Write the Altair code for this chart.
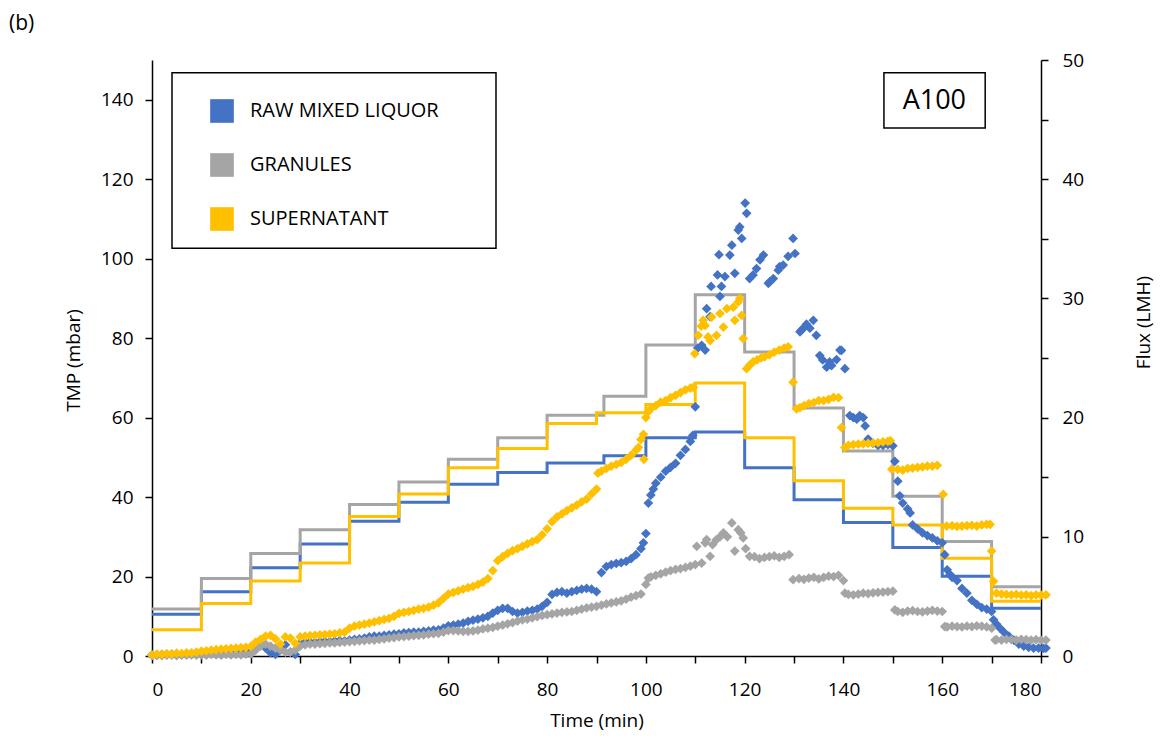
import altair as alt
import pandas as pd

# ---------------- data ----------------
series = ["RAW MIXED LIQUOR", "GRANULES", "SUPERNATANT"]
colors = ["#4472C4", "#A5A5A5", "#FFC000"]

# TMP (mbar) scatter, RAW MIXED LIQUOR
blue_t = list(range(0, 91)) + [
    91, 92, 93, 94, 95, 96, 97, 98, 99, 99.5, 100, 100.5, 101, 101.5, 102, 103, 104, 105, 106, 107, 108, 109, 109.5, 110,
    110.5, 111.3, 112, 112.3, 113, 113.2, 114.5, 114.8, 115, 115.3, 116, 117, 117.4, 118, 118.7, 119, 119.4, 120.1, 120.4,
    121, 121.7, 122.4, 123.1, 123.8, 124.8, 125.1, 125.8, 126.8, 127.1, 127.8, 128.8, 129.8, 130.2,
    131.2, 131.5, 131.8, 132.5, 133.2, 133.9, 134.5, 135.2, 135.8, 136.6, 137.2, 137.6, 138.6, 139.3, 139.6, 140.3,
    141.3, 142, 142.7, 143.3, 144, 144.4, 145, 146, 147, 148, 149, 150, 150.4, 151, 151.4, 152, 153, 153.5, 154, 155,
    156, 157, 158, 159, 160, 160.5, 161, 161.6, 162, 163, 164, 165, 166, 167, 168, 169, 170, 170.4, 171, 171.7, 172.5,
    173.5, 174.5, 175.5, 176.5, 177.5, 178.5, 179.5, 180.5, 181]
blue_tmp = [
    0.3, 0.2, 0.4, 0.3, 0.5, 0.4, 0.3, 0.5, 0.4, 0.6, 0.5, 0.4, 0.6, 0.5, 0.7, 0.6, 0.5, 0.7, 0.8, 1.0,
    1.6, 2.4, 3.0, 2.0, 0.8, 0.4, 1.5, 2.8, 1.0, 0.4,
    3.2, 3.4, 3.5, 3.4, 3.6, 3.7, 3.6, 3.8, 3.9, 3.8, 4.0, 4.2, 4.3, 4.5, 4.8, 5.0, 5.0, 5.2, 5.3, 5.5,
    5.6, 5.8, 5.9, 6.0, 6.0, 6.2, 6.3, 6.5, 6.6, 7.0,
    7.6, 7.8, 8.0, 8.3, 8.7, 9.0, 9.3, 9.6, 10.0, 10.8, 11.5, 12.0, 12.0, 11.2, 10.8, 11.0, 11.3, 11.5, 11.8, 12.5,
    13.5, 15.5, 16.0, 16.2, 15.8, 16.2, 16.5, 16.8, 17.0, 16.8, 16.2,
    21.0, 22.5, 23.0, 23.3, 23.5, 23.8, 24.5, 25.5, 27.0, 28.5, 30.8, 38.5, 40.5, 42.0, 43.5, 45.0, 46.5, 47.5, 48.5,
    50.5, 52.0, 54.0, 55.5, 62.7,
    77.5, 78.2, 77.0, 87.4, 85.4, 93.0, 95.9, 101.0, 90.5, 93.0, 95.5, 100.9, 103.4, 96.3, 107.2, 108.0, 105.1, 114.0,
    111.4, 95.0, 95.9, 97.5, 99.7, 100.9, 93.8, 94.2, 95.0, 97.1, 98.0, 98.4, 100.6, 105.1, 101.3,
    81.6, 82.0, 82.4, 83.5, 82.5, 84.5, 80.7, 75.6, 74.5, 72.7, 74.0, 73.1, 74.6, 77.0, 76.9, 72.3,
    60.5, 60.0, 59.6, 60.5, 60.0, 57.9, 54.6, 53.5, 53.0, 53.0, 53.2, 52.9, 49.0, 44.0, 40.3, 38.5, 37.0, 36.0, 33.0,
    32.0, 31.0, 30.3, 29.7, 29.0, 28.5, 25.5, 21.7, 20.5, 19.8, 19.0, 17.0, 15.8, 14.0, 13.0, 12.2, 11.8, 11.2, 9.1,
    8.0, 7.0, 6.0, 5.0, 4.0, 3.0, 2.5, 2.2, 2.0, 2.0, 1.9, 2.0]

# TMP (mbar) scatter, GRANULES
gray_t = list(range(0, 100)) + [
    100, 100.5, 101, 102, 103, 104, 105, 106, 107, 108, 109, 110, 110.3, 111.3, 112, 112.3, 113, 113.5, 114.3, 115,
    115.7, 116.5, 117.4, 118, 118.7, 119.2, 119.7, 120.2, 121, 122, 123, 124, 125, 126, 127, 128, 129, 129.8, 131,
    132, 133, 134, 135, 136, 137, 138, 139, 140, 140.3, 141, 142, 143, 144, 145, 146, 147, 148, 149, 150, 150.4, 151,
    152, 153, 154, 155, 156, 157, 158, 159, 160, 160.5, 161, 162, 163, 164, 165, 166, 167, 168, 169, 170, 170.7, 171,
    172, 173, 174, 175, 176, 177, 178, 179, 180, 181]
gray_tmp = [
    0.1, 0.2, 0.1, 0.3, 0.2, 0.1, 0.3, 0.2, 0.3, 0.2, 0.3, 0.2, 0.4, 0.3, 0.2, 0.4, 0.3, 0.4, 0.3, 0.5,
    0.5, 1.5, 2.5, 3.0, 2.5, 2.0, 1.5, 1.0, 1.0, 1.5,
    2.5, 2.8, 3.0, 3.0, 3.1, 3.2, 3.3, 3.3, 3.4, 3.5, 3.6, 3.7, 3.8, 3.9, 4.0, 4.0, 4.2, 4.3, 4.5, 4.6,
    4.8, 4.9, 5.0, 5.1, 5.2, 5.3, 5.5, 5.6, 5.7, 6.0,
    6.4, 6.4, 6.3, 6.2, 6.2, 6.3, 6.5, 6.8, 7.0, 7.2, 7.5, 7.8, 8.1, 8.4, 8.8, 9.1, 9.3, 9.6, 9.9, 10.2,
    10.4, 10.6, 10.8, 11.0, 11.1, 11.2, 11.5, 11.8, 12.1, 12.3, 12.5, 12.8, 13.1, 13.4, 13.6, 13.9, 14.3, 14.8, 15.2, 15.6,
    18.0, 19.6, 19.9, 20.3, 20.7, 21.1, 21.5, 21.8, 22.0, 22.3, 22.6, 23.0, 27.6, 23.4, 28.5, 29.3, 25.1, 28.0, 29.3,
    30.0, 31.0, 30.0, 33.5, 26.4, 31.8, 31.0, 29.7, 27.0, 25.1, 25.0, 24.5, 24.8, 25.0, 25.2, 24.8, 25.1, 25.5, 19.2,
    19.5, 19.3, 19.6, 19.8, 19.4, 19.8, 20.1, 20.0, 20.3, 19.0, 15.8, 15.5, 15.4, 15.6, 15.8, 15.7, 15.9, 16.0, 16.1,
    16.2, 16.3, 11.6, 11.2, 11.0, 11.3, 11.4, 11.2, 11.1, 11.3, 11.5, 11.3, 11.2, 7.4, 7.3, 7.5, 7.4, 7.3, 7.5, 7.4,
    7.6, 7.5, 7.3, 7.0, 4.0, 4.1, 4.0, 4.2, 4.1, 4.0, 4.2, 4.1, 4.0, 4.1, 4.0, 4.0]

# TMP (mbar) scatter, SUPERNATANT
yellow_t = list(range(0, 91)) + [
    90.3, 91, 92, 93, 94, 95, 96, 97, 98, 98.5, 99, 99.5, 99.6, 100, 100.5, 101, 102, 103, 104, 105, 106, 107, 108, 109,
    109.6, 109.9, 110.6, 111.2, 111.6, 112, 112.6, 113, 113.3, 114.3, 115, 115.7, 116.4, 117.7, 118, 118.7, 119, 119.4,
    119.7, 120.4, 121, 121.7, 122.5, 123.3, 124, 125, 126, 127, 128, 128.8, 129.8, 130.5, 131.2, 132, 133, 134, 135,
    136, 137, 138, 139, 139.6, 140.3, 141, 142, 143, 144, 145, 146, 147, 148, 149, 149.5, 149.8, 151, 152, 153, 154,
    155, 156, 157, 158, 159, 160.2, 160.9, 162, 163, 164, 165, 166, 167, 168, 169, 169.7, 170, 170.4, 171, 172, 173,
    174, 175, 176, 177, 178, 179, 180, 181]
yellow_tmp = [
    0.3, 0.5, 0.4, 0.6, 0.5, 0.7, 0.6, 0.8, 0.8, 1.0, 1.2, 1.3, 1.5, 1.6, 1.7, 1.8, 1.9, 2.0, 2.1, 2.2,
    2.4, 3.5, 4.2, 5.0, 5.2, 4.3, 3.0, 4.8, 4.5, 3.2,
    4.8, 5.0, 5.1, 5.2, 5.3, 5.4, 5.5, 5.6, 5.8, 6.0, 7.0, 7.5, 7.8, 8.0, 8.3, 8.6, 8.9, 9.2, 9.5, 10.0,
    10.7, 11.0, 11.2, 11.5, 11.8, 12.0, 12.3, 12.8, 13.4, 14.5,
    15.6, 16.0, 16.4, 16.8, 17.2, 17.5, 18.0, 18.6, 19.5, 21.5, 24.0, 25.0, 25.8, 26.5, 27.0, 27.6, 28.2, 28.8, 29.3, 30.5,
    32.0, 33.8, 35.0, 35.8, 36.6, 37.3, 38.0, 38.8, 39.5, 40.8, 42.0,
    46.0, 46.5, 47.2, 47.8, 48.2, 48.7, 49.5, 50.5, 51.8, 52.5, 54.5, 55.8, 49.5, 60.0, 61.5, 62.2, 63.0, 63.9, 64.3,
    65.0, 65.6, 66.3, 67.0, 67.4, 67.6, 76.1, 80.7, 83.0, 84.5, 83.2, 80.3, 79.4, 85.3, 80.7, 86.2, 82.8, 87.4, 87.8,
    84.5, 89.1, 90.0, 85.7, 79.9, 72.3, 73.2, 74.0, 74.5, 75.0, 75.3, 75.8, 76.5, 77.0, 77.5, 77.8, 68.9, 62.2, 62.5,
    63.0, 63.5, 63.8, 64.3, 64.3, 64.6, 65.1, 65.0, 57.5, 52.5, 53.0, 53.2, 53.3, 53.4, 53.5, 53.6, 53.7, 53.9, 54.0,
    54.2, 47.0, 47.0, 46.8, 47.2, 47.3, 47.5, 47.6, 47.8, 47.8, 48.0, 40.7, 32.7, 32.8, 32.6, 32.7, 32.8, 32.9, 32.7,
    33.0, 33.1, 33.1, 26.4, 18.8, 15.8, 15.6, 15.5, 15.4, 15.5, 15.3, 15.4, 15.2, 15.4, 15.3, 15.4]

# Flux (LMH) step programme
blue_step_t = [0, 10, 20, 30, 40, 50, 60, 70, 80, 91.5, 100, 110, 120, 130, 140, 150, 160, 170, 180]
blue_flux = [3.5, 5.4, 7.4, 9.4, 11.3, 12.9, 14.4, 15.4, 16.2, 16.8, 18.3, 18.8, 15.8, 13.1, 11.2, 9.1, 6.7, 4.0]
gray_step_t = [0, 10, 20, 30, 40, 50, 60, 70, 80, 91.5, 100, 110, 120, 130, 140, 150, 160, 170, 180]
gray_flux = [3.95, 6.5, 8.6, 10.6, 12.7, 14.6, 16.5, 18.3, 20.2, 21.8, 26.1, 30.3, 25.5, 20.8, 17.2, 13.4, 9.6, 5.8]
yellow_step_t = [0, 10, 20, 30, 40, 50, 60, 70, 80, 90, 100, 110, 120, 130, 140, 150, 160, 170, 180]
yellow_flux = [2.2, 4.4, 6.3, 7.8, 11.7, 13.6, 15.8, 17.4, 19.5, 20.4, 21.1, 22.9, 18.3, 14.7, 12.4, 11.0, 8.2, 4.6]

# ---------------- tables ----------------
rows = []
for k, (s, ts, vs) in enumerate(zip(series, [blue_t, gray_t, yellow_t], [blue_tmp, gray_tmp, yellow_tmp])):
    for t, v in zip(ts, vs):
        rows.append({"time": t, "tmp": v, "series": s, "k": k})
pts = pd.DataFrame(rows)

lrows = []
for k, (s, c, ts, fs) in enumerate(zip(series, colors, [blue_step_t, gray_step_t, yellow_step_t],
                                       [blue_flux, gray_flux, yellow_flux])):
    vals = fs + [fs[-1]]
    for t, f in zip(ts, vals):
        lrows.append({"time": t, "flux": f, "series": s, "col": c, "k": k})
lines = pd.DataFrame(lrows)

FONT = "Open Sans"

common = dict(
    grid=False, domainColor="black", domainWidth=1.5, tickColor="black", tickWidth=1.5, tickSize=7,
    labelFont=FONT, labelFontSize=19, labelColor="black",
    titleFont=FONT, titleFontSize=19, titleFontWeight="normal", titleColor="black",
)
x_axis = alt.Axis(
    title="Time (min)", values=list(range(0, 181, 10)),
    labelExpr="datum.value % 20 == 0 ? datum.label : ''",
    labelPadding=17, titleY=64, titleBaseline="middle", **common,
)
y_left_axis = alt.Axis(
    title="TMP (mbar)", orient="left", values=list(range(0, 141, 20)), labelPadding=12,
    titleAngle=270, titleX=-79, titleY=300, titleBaseline="middle", titleAlign="center", **common,
)
y_right_axis = alt.Axis(
    title="Flux (LMH)", orient="right", values=list(range(0, 51, 5)),
    labelExpr="datum.value % 10 == 0 ? datum.label : ''", labelPadding=14,
    titleAngle=270, titleX=102, titleY=262, titleBaseline="middle", titleAlign="center", **common,
)

xs = alt.Scale(domain=[0, 180], nice=False, zero=False)
ys_left = alt.Scale(domain=[0, 150], nice=False)
ys_right = alt.Scale(domain=[0, 50], nice=False)
color_scale = alt.Scale(domain=series, range=colors)

legend = alt.Legend(
    title=None, orient="none", legendX=58, legendY=39, symbolType="square", symbolSize=560,
    symbolStrokeWidth=0, symbolOpacity=1, labelFont=FONT, labelFontSize=20, labelColor="black",
    rowPadding=30, labelOffset=16, padding=0, labelLimit=400,
)

# annotation boxes (legend frame and panel label), in data units
boxes = pd.DataFrame({
    "time": [4.05, 148.2], "time2": [69.65, 168.7],
    "tmp": [102.6, 132.9], "tmp2": [146.8, 146.8],
})
label_df = pd.DataFrame({"time": [158.4], "tmp": [139.8], "text": ["A100"]})
panel_df = pd.DataFrame({"text": ["(b)"]})

box_layer = alt.Chart(boxes).mark_rect(fill="white", stroke="black", strokeWidth=1.5).encode(
    x=alt.X("time:Q", scale=xs, axis=x_axis), x2="time2:Q",
    y=alt.Y("tmp:Q", scale=ys_left, axis=y_left_axis), y2="tmp2:Q",
)
label_layer = alt.Chart(label_df).mark_text(font=FONT, fontSize=27, color="black").encode(
    x=alt.X("time:Q", scale=xs, axis=x_axis),
    y=alt.Y("tmp:Q", scale=ys_left, axis=y_left_axis),
    text="text:N",
)
panel_layer = alt.Chart(panel_df).mark_text(
    font=FONT, fontSize=21, color="black", align="left", baseline="alphabetic"
).encode(x=alt.value(-143), y=alt.value(-30), text="text:N")

point_layer = alt.Chart(pts).mark_point(shape="diamond", filled=True, size=95, opacity=1).encode(
    x=alt.X("time:Q", scale=xs, axis=x_axis),
    y=alt.Y("tmp:Q", scale=ys_left, axis=y_left_axis),
    color=alt.Color("series:N", scale=color_scale, legend=legend),
    order=alt.Order("k:Q"),
)
line_layer = alt.Chart(lines).mark_line(interpolate="step-after", strokeWidth=3).encode(
    x=alt.X("time:Q", scale=xs, axis=x_axis),
    y=alt.Y("flux:Q", scale=ys_right, axis=y_right_axis),
    stroke=alt.Stroke("col:N", scale=None),
    detail="k:N",
)

left = alt.layer(box_layer, label_layer, point_layer, panel_layer)
chart = alt.layer(line_layer, left).resolve_scale(y="independent").properties(
    width=889, height=596,
    padding={"left": 144, "top": 52, "right": 117, "bottom": 76},
    autosize=alt.AutoSizeParams(type="none"),
).configure_view(stroke=None)

chart.save("out.html", embed_options={"renderer": "svg", "actions": False})
